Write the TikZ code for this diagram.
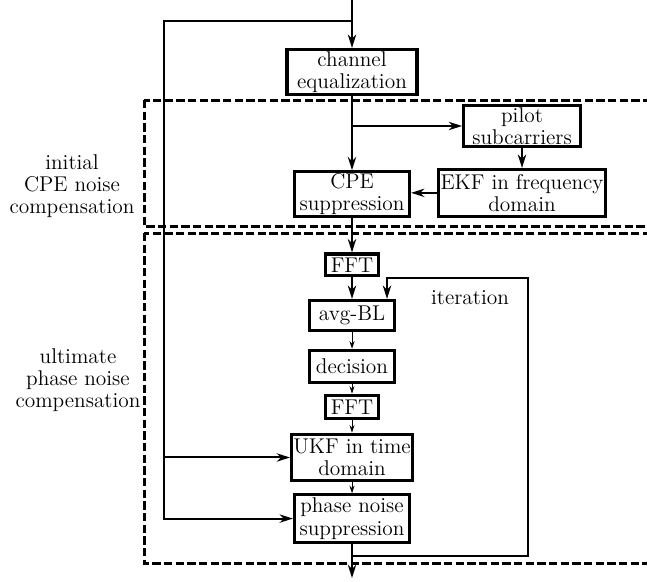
\documentclass[tikz,border=0pt]{standalone}
\usetikzlibrary{%
	arrows.meta,%
	positioning,%
	calc,%
}
\tikzset{
	>={Stealth[length=8pt,width=5pt,inset=2.5pt]},%
	nodes={align=center},%
	blk/.style={%
			draw,%
			rectangle,%
			line width=1.9pt,%
			inner sep=1pt,%
			fill=white},%
	region/.style={%
			draw,%
			line width=1.8pt,%
			dash pattern=on 5pt off 2pt},%
	flow/.style={->, line width=1.2pt},%
	thinflow/.style={->, line width=0.6pt, >={Stealth[length=4.5pt,width=3pt,inset=1.5pt]}},%
	loopline/.style={->, line width=1.5pt},%
	lbl/.style={inner sep=0pt},%
}

\begin{document}
\begin{tikzpicture}[x=0.6pt, y=-0.6pt, nodes={font={\fontsize{12.8}{13.4}\selectfont}}]%
	\useasboundingbox (0,0) rectangle (647,581);
	\clip (0,0) rectangle (647,581);

	% the two compensation stages
	\draw[region] (144,100) rectangle (680,226);
	\draw[region] (144,233) rectangle (680,563);
	\node[lbl] (ini) at (72,186) {initial\\CPE noise\\compensation};
	\node[lbl] (ult) at (78,380) {ultimate\\phase noise\\compensation};

	\node[blk, minimum width=78pt, minimum height=27pt] (chan) at (352,72) {channel\\equalization};
	\node[blk, minimum width=70pt, minimum height=24pt] (pilot) at (522,126) {pilot\\subcarriers};
	\node[blk, minimum width=99pt, minimum height=28pt] (ekf) [below=12pt of pilot] {EKF in frequency\\domain};
	\node[blk, minimum width=69pt, minimum height=26pt] (cpe) [below=44.5pt of chan] {CPE\\suppression};
	\node[blk, minimum width=32pt, minimum height=13pt] (fft1) [below=20.5pt of cpe] {FFT};
	\node[blk, minimum width=51pt, minimum height=18pt] (avg) [below=13pt of fft1] {avg-BL};
	\node[blk, minimum width=51pt, minimum height=19.5pt] (dec) [below=10pt of avg] {decision};
	\node[blk, minimum width=32pt, minimum height=14pt] (fft2) [below=5.5pt of dec] {FFT};
	\node[blk, minimum width=71pt, minimum height=28pt] (ukf) [below=7.5pt of fft2] {UKF in time\\domain};
	\node[blk, minimum width=69pt, minimum height=28.5pt] (pns) [below=6.5pt of ukf] {phase noise\\suppression};
	\node[lbl] (iter) at (470,298) {iteration};

	\coordinate (in) at (352,0);
	\coordinate (tap) at (352,21);
	\coordinate (fb) at (164,21);
	\coordinate (out) at (352,578);
	\coordinate (lpa) at (528,556);
	\coordinate (lpb) at (387,278);

	\draw[flow] (in) -- (chan);
	\draw[flow] (tap) -- (fb) |- (pns);
	\draw[flow] (fb |- ukf) -- (ukf);
	\draw[flow] (chan) -- (cpe);
	\draw[flow] (chan.south |- pilot) -- (pilot);
	\draw[flow] (pilot) -- (ekf);
	\draw[flow] (ekf.west) -- (ekf.west -| cpe.east);
	\draw[flow] (cpe) -- (fft1);
	\draw[flow] (fft1) -- (avg);
	\draw[thinflow] (avg) -- (dec);
	\draw[thinflow] (dec) -- (fft2);
	\draw[thinflow] (fft2) -- (ukf);
	\draw[thinflow] (ukf) -- (pns);
	\draw[flow] (pns) -- (out);
	\draw[loopline] (pns.south |- lpa) -- (lpa) |- (lpb) -- (lpb |- avg.north);
\end{tikzpicture}
\end{document}
